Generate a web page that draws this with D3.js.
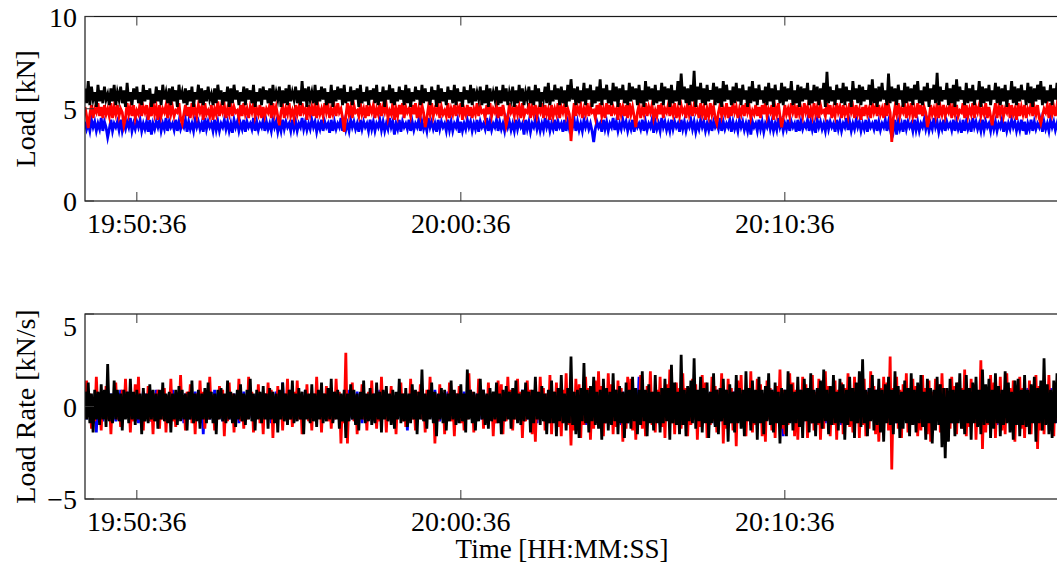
<!DOCTYPE html>
<html>
<head>
<meta charset="utf-8">
<script src="https://cdn.jsdelivr.net/npm/d3@7"></script>
<style>
  html, body { margin: 0; padding: 0; background: #fff; overflow: hidden; }
  svg { display: block; font-family: "Liberation Serif", "Times New Roman", Times, serif; }
</style>
</head>
<body>
<svg id="chart" width="1057" height="572"></svg>
<script>
// ---- sampling ----
const startTime = "19:49:00";
const endTime = "20:19:00";
const sampleStepSeconds = 3;

// ---- tick labels ----
const timeTicks = ["19:50:36", "20:00:36", "20:10:36"];
const loadTicks = [0, 5, 10];
const rateTicks = [-5, 0, 5];

// ---- load [kN] ----
const loadBlue = [
  4.3,3.9,4.2,3.8,4.4,4.0,4.3,3.8,4.2,3.9,4.5,3.8,4.3,4.0,3.45,3.9,
  4.4,3.8,4.2,4.0,4.3,3.85,4.4,3.8,4.2,3.9,4.3,4.0,4.5,3.8,4.2,3.9,
  4.3,4.0,4.4,3.8,4.2,3.9,4.3,3.75,4.4,3.6,4.2,3.9,4.3,4.0,4.4,3.8,
  4.2,3.9,4.5,3.8,4.3,4.0,4.2,3.85,4.4,3.8,4.3,3.9,4.2,4.0,4.4,3.75,
  4.3,3.9,4.2,3.8,4.4,4.0,4.3,3.9,4.2,3.75,4.5,3.9,4.3,4.0,4.2,3.8,
  4.4,3.85,4.3,3.8,4.2,4.0,4.4,3.9,4.3,3.8,4.2,3.7,4.4,4.0,4.3,3.8,
  4.2,3.9,4.4,3.75,4.3,4.0,4.2,3.9,4.5,3.8,4.3,3.85,4.2,4.0,4.4,3.8,
  4.3,3.9,4.2,3.8,4.4,4.0,4.3,3.75,4.2,3.8,4.4,3.9,4.3,4.0,4.2,3.8,
  4.4,3.9,4.3,3.8,4.2,4.0,4.5,3.9,4.3,3.85,4.2,3.9,4.4,4.0,4.3,3.75,
  4.2,3.9,4.4,3.8,4.3,4.0,4.2,3.7,4.4,3.8,4.3,3.9,4.2,4.0,4.5,3.8,
  4.3,3.85,4.2,3.8,4.4,4.0,4.3,3.9,4.2,3.75,4.4,3.9,4.3,4.0,4.2,3.8,
  4.4,3.9,4.3,3.8,4.2,4.0,4.4,3.85,4.3,3.8,4.2,3.9,4.5,4.0,4.3,3.6,
  4.2,3.9,4.4,3.75,4.3,4.0,4.2,3.9,4.4,3.8,4.3,3.85,4.2,4.0,4.4,3.8,
  4.3,3.9,4.2,3.8,4.5,4.0,4.3,3.9,4.2,3.75,4.4,3.9,4.3,4.0,4.2,3.8,
  4.4,3.85,4.3,3.8,4.2,4.0,4.4,3.7,4.3,3.8,4.2,3.9,4.4,4.0,4.3,3.8,
  4.2,3.9,4.4,3.75,4.3,4.0,4.2,3.9,4.5,3.8,4.3,3.85,4.2,4.0,4.4,3.8,
  4.3,3.9,4.2,3.8,4.4,4.0,4.3,3.85,4.2,3.8,4.4,3.9,4.3,4.0,4.2,3.6,
  4.4,3.9,4.3,3.75,4.2,4.0,4.4,3.9,4.3,3.8,4.2,3.85,4.5,4.0,4.3,3.8,
  4.2,3.9,4.4,3.8,4.3,4.0,4.2,3.75,4.4,3.8,4.3,3.9,4.2,4.0,4.4,3.8,
  4.3,3.85,4.2,3.8,4.4,4.0,4.3,3.9,4.2,3.8,3.2,3.9,4.3,4.0,4.2,3.75,
  4.4,3.9,4.3,3.8,4.2,4.0,4.5,3.85,4.3,3.8,4.2,3.9,4.4,4.0,4.3,3.8,
  4.2,3.9,4.4,3.75,4.3,4.0,4.2,3.9,4.4,3.8,4.3,3.85,4.2,4.0,4.4,3.7,
  4.3,3.9,4.2,3.8,4.5,4.0,4.3,3.85,4.2,3.8,4.4,3.9,4.3,4.0,4.2,3.75,
  4.4,3.9,4.3,3.8,4.2,4.0,4.4,3.9,4.3,3.75,4.2,3.9,4.4,4.0,4.3,3.8,
  4.2,3.85,4.4,3.8,4.3,4.0,4.2,3.9,4.5,3.8,4.3,3.9,4.2,4.0,4.4,3.75,
  4.3,3.9,4.2,3.8,4.4,4.0,4.3,3.85,4.2,3.8,4.4,3.6,4.3,4.0,4.2,3.8,
  4.4,3.9,4.3,3.75,4.2,4.0,4.4,3.9,4.3,3.8,4.2,3.85,4.5,4.0,4.3,3.8,
  4.2,3.9,4.4,3.8,4.3,4.0,4.2,3.75,4.4,3.8,4.3,3.9,4.2,4.0,4.4,3.8,
  4.3,3.85,4.2,3.7,4.4,4.0,4.3,3.9,4.2,3.8,4.4,3.9,4.3,4.0,4.2,3.75,
  4.4,3.9,4.3,3.8,4.2,4.0,4.5,3.85,4.3,3.8,4.2,3.9,4.4,4.0,4.3,3.8,
  4.2,3.9,4.4,3.75,4.3,4.0,4.2,3.9,4.4,3.8,4.3,3.85,4.2,4.0,4.4,3.8,
  4.3,3.9,4.2,3.8,4.4,3.6,4.3,3.9,4.2,3.75,4.4,3.9,4.3,4.0,4.2,3.8,
  4.4,3.85,4.3,3.8,4.2,4.0,4.4,3.9,4.3,3.8,4.2,3.9,4.5,4.0,4.3,3.75,
  4.2,3.9,4.4,3.8,4.3,4.0,4.2,3.85,4.4,3.8,4.3,3.9,4.2,3.7,4.4,3.8,
  4.3,3.9,4.2,3.75,4.5,4.0,4.3,3.9,4.2,3.8,4.4,3.85,4.3,4.0,4.2,3.8,
  4.4,3.9,4.3,3.8,4.2,4.0,4.4,3.75,4.3,3.8,4.2,3.9,4.4,4.0,4.3,3.8,
  4.2,3.85,4.4,3.8,4.3,3.6,4.2,3.9,4.4,3.8,4.3,3.9,4.2,4.0,4.4,3.75,
  4.3,3.9,4.2,3.8,4.4,4.0,4.3,3.85,4.2,3.8,4.4,3.9,4.3,4.0,4.2,3.8
];
const loadRed = [
  5.1,4.6,3.95,4.7,5.2,4.5,5.0,4.8,5.3,4.6,5.1,4.5,5.2,4.7,5.0,4.6,
  5.3,4.5,5.1,4.7,5.2,4.6,5.0,4.8,4.1,4.5,5.3,4.7,5.1,4.6,5.2,4.5,
  4.9,4.7,5.3,4.6,5.1,4.8,5.2,4.4,5.0,4.6,5.4,4.7,5.1,4.4,5.2,4.6,
  5.0,4.8,5.2,4.5,5.3,4.7,5.1,4.6,4.9,4.8,5.3,4.5,4.2,4.7,5.2,4.6,
  5.1,4.5,5.3,4.7,5.0,4.6,5.2,4.8,5.1,4.4,5.3,4.7,4.9,4.6,5.2,4.4,
  5.0,4.7,5.4,4.6,5.1,4.8,5.2,4.5,5.0,4.7,5.3,4.6,5.1,4.8,4.9,4.5,
  5.2,4.6,5.3,4.7,5.0,4.5,5.1,4.8,5.3,4.6,5.0,4.7,5.2,4.5,5.1,4.6,
  5.0,4.8,5.2,4.5,5.3,4.7,5.1,4.6,4.1,4.8,5.2,4.5,5.0,4.7,5.3,4.6,
  4.9,4.5,5.2,4.7,5.1,4.6,5.3,4.8,5.0,4.4,5.2,4.7,5.1,4.6,5.3,4.5,
  5.1,4.7,5.0,4.6,5.3,4.8,5.2,4.5,5.0,4.7,5.1,4.6,5.3,4.8,5.0,4.5,
  3.75,4.6,5.3,4.7,5.1,4.5,5.2,4.8,4.9,4.6,5.3,4.7,5.0,4.5,5.2,4.6,
  5.1,4.8,5.2,4.5,5.0,4.7,5.3,4.6,5.1,4.8,5.2,4.5,4.9,4.7,5.3,4.4,
  5.0,4.6,5.2,4.7,5.3,4.5,5.1,4.8,5.0,4.6,5.2,4.7,5.3,4.5,5.0,4.6,
  5.2,4.8,4.0,4.5,5.1,4.7,5.3,4.6,5.0,4.8,5.2,4.5,5.1,4.7,4.9,4.6,
  5.3,4.5,5.0,4.7,5.2,4.6,5.1,4.8,5.3,4.4,5.0,4.7,5.2,4.6,5.1,4.5,
  5.0,4.7,5.3,4.6,5.1,4.8,4.9,4.5,5.2,4.7,5.3,4.6,5.0,4.8,5.2,4.5,
  5.1,4.6,5.2,4.7,4.1,4.5,5.3,4.8,5.0,4.6,5.2,4.7,5.1,4.5,5.3,4.6,
  4.9,4.8,5.3,4.5,5.1,4.7,5.2,4.6,5.0,4.8,5.3,4.5,5.2,4.7,5.0,4.4,
  5.2,4.6,5.0,4.7,5.3,4.5,5.1,4.8,5.2,4.6,5.0,4.7,3.25,4.5,5.3,4.6,
  5.1,4.8,5.2,4.5,5.0,4.7,5.3,4.6,5.1,4.8,4.9,4.5,5.2,4.7,5.3,4.6,
  5.0,4.5,5.3,4.7,5.2,4.6,5.1,4.8,5.0,4.4,5.3,4.7,5.1,4.6,5.2,4.5,
  5.3,4.7,5.1,4.6,4.0,4.8,5.2,4.5,5.0,4.7,5.3,4.6,5.1,4.8,5.2,4.5,
  4.9,4.6,5.2,4.7,5.3,4.5,5.0,4.8,5.2,4.6,5.1,4.7,5.3,4.5,5.0,4.6,
  5.2,4.8,5.0,4.5,5.3,4.7,5.1,4.6,5.2,4.8,5.0,4.5,5.3,4.7,5.1,4.4,
  5.0,4.6,5.3,4.7,5.1,4.5,4.2,4.8,5.2,4.6,5.0,4.7,5.3,4.5,5.1,4.6,
  5.3,4.8,5.1,4.5,5.0,4.7,5.2,4.6,5.3,4.8,5.1,4.5,4.9,4.7,5.2,4.6,
  5.1,4.5,5.2,4.7,5.3,4.6,5.0,4.8,5.2,4.4,5.1,4.7,5.3,4.6,4.0,4.5,
  5.2,4.7,5.0,4.6,5.3,4.8,5.1,4.5,5.2,4.7,5.0,4.6,5.3,4.8,5.1,4.5,
  5.0,4.6,5.3,4.7,5.1,4.5,5.2,4.8,4.9,4.6,5.3,4.7,5.2,4.5,5.0,4.6,
  5.3,4.8,5.1,4.5,5.2,4.7,5.0,4.6,5.3,4.8,5.1,4.5,5.2,4.7,5.0,4.4,
  5.1,4.6,5.2,4.7,5.0,4.5,5.3,4.8,5.1,4.6,5.2,4.7,5.0,4.5,5.3,4.6,
  5.2,4.8,3.2,4.5,5.1,4.7,5.3,4.6,5.0,4.8,5.2,4.5,5.1,4.7,5.3,4.6,
  5.0,4.5,5.3,4.7,5.2,4.6,5.1,4.8,4.0,4.4,5.2,4.7,5.0,4.6,5.3,4.5,
  5.1,4.7,5.2,4.6,5.0,4.8,5.3,4.5,5.1,4.7,5.2,4.6,4.9,4.8,5.3,4.5,
  5.2,4.6,5.0,4.7,5.3,4.5,5.1,4.8,5.2,4.6,5.0,4.7,5.3,4.5,5.1,4.6,
  4.1,4.8,5.3,4.5,5.1,4.7,5.2,4.6,5.0,4.8,5.3,4.5,5.2,4.7,5.0,4.4,
  5.3,4.6,5.1,4.7,5.2,4.5,5.0,4.8,5.3,4.6,5.1,4.7,5.2,4.5,4.2,4.6,
  5.0,4.8,5.2,4.5,5.3,4.7,5.1,4.6,5.2,4.8,5.0,4.5,5.3,4.7,5.1,4.6
];
const loadBlack = [
  6.1,5.3,6.5,5.2,6.2,5.5,5.9,5.1,6.3,5.4,6.0,5.3,6.2,5.5,5.8,5.2,
  6.1,5.4,6.3,5.2,5.9,5.5,6.2,5.3,6.0,5.1,6.4,5.4,5.9,5.2,6.1,5.5,
  6.2,5.3,5.9,5.2,6.3,5.4,6.0,5.5,6.1,5.1,5.8,5.3,6.2,5.4,6.0,5.2,
  6.3,5.5,5.9,5.3,6.1,5.2,6.2,5.4,6.0,5.1,6.3,5.5,5.9,5.3,6.1,5.2,
  6.0,5.4,6.2,5.1,5.9,5.5,6.3,5.3,6.1,5.2,6.0,5.4,6.2,5.5,5.8,5.2,
  6.1,5.3,6.3,5.5,6.0,5.2,5.9,5.4,6.2,5.1,6.1,5.3,6.3,5.5,6.0,5.2,
  5.9,5.4,6.2,5.2,6.1,5.5,6.0,5.3,6.3,5.1,5.9,5.4,6.1,5.2,6.2,5.5,
  6.0,5.3,6.1,5.2,6.3,5.4,5.9,5.5,6.2,5.1,6.0,5.3,6.1,5.2,6.3,5.4,
  5.9,5.5,6.2,5.3,6.0,5.2,6.5,5.4,6.1,5.1,6.2,5.5,5.9,5.3,6.3,5.2,
  6.0,5.4,6.2,5.5,6.1,5.2,5.9,5.3,6.3,5.1,6.0,5.4,6.2,5.5,6.1,5.2,
  6.3,5.3,5.9,5.4,6.2,5.2,6.0,5.5,6.1,5.1,6.3,5.3,5.9,5.4,6.2,5.2,
  6.0,5.5,6.1,5.3,6.3,5.2,5.9,5.4,6.2,5.1,6.0,5.5,6.3,5.3,6.1,5.2,
  5.9,5.4,6.2,5.5,6.0,5.2,6.3,5.3,6.1,5.1,5.9,5.4,6.2,5.5,6.0,5.2,
  6.3,5.3,6.1,5.4,5.9,5.2,6.2,5.5,6.0,5.1,6.3,5.3,6.1,5.4,5.9,5.2,
  6.2,5.5,6.0,5.3,6.3,5.2,6.1,5.4,5.9,5.1,6.2,5.5,6.0,5.3,6.3,5.2,
  6.1,5.4,5.9,5.5,6.2,5.2,6.0,5.3,6.3,5.1,6.1,5.4,5.9,5.5,6.2,5.2,
  6.0,5.3,6.3,5.4,6.1,5.2,5.9,5.5,6.2,5.1,6.0,5.3,6.3,5.4,6.1,5.2,
  5.9,5.5,6.2,5.3,6.0,5.2,6.3,5.4,6.1,5.1,5.9,5.5,6.2,5.3,6.4,5.2,
  6.0,5.4,6.3,5.5,6.1,5.2,6.2,5.3,6.0,5.1,6.3,5.4,6.6,5.5,6.1,5.2,
  6.2,5.3,6.0,5.4,6.4,5.2,6.1,5.5,6.3,5.1,6.0,5.3,6.2,5.4,6.6,5.2,
  6.1,5.5,6.3,5.3,6.0,5.2,6.4,5.4,6.2,5.1,6.1,5.5,6.3,5.3,6.0,5.2,
  6.4,5.4,6.2,5.5,6.1,5.2,6.3,5.3,6.0,5.1,6.5,5.4,6.2,5.5,6.1,5.2,
  6.3,5.3,6.0,5.4,6.4,5.2,6.2,5.5,6.1,5.1,6.3,5.3,6.0,5.4,6.5,5.2,
  6.9,5.5,6.2,5.3,6.1,5.2,6.3,5.4,7.05,5.1,6.2,5.5,6.4,5.3,6.1,5.2,
  6.3,5.4,6.0,5.5,6.4,5.2,6.2,5.3,6.1,5.1,6.5,5.4,6.3,5.5,6.0,5.2,
  6.2,5.3,6.4,5.4,6.1,5.2,6.3,5.5,6.0,5.1,6.2,5.3,6.5,5.4,6.1,5.2,
  6.3,5.5,6.0,5.3,6.2,5.2,6.4,5.4,6.1,5.1,6.3,5.5,6.0,5.3,6.4,5.2,
  6.2,5.4,6.1,5.5,6.5,5.2,6.0,5.3,6.3,5.1,6.2,5.4,6.1,5.5,6.4,5.2,
  6.0,5.3,6.3,5.4,6.2,5.2,6.1,5.5,6.4,5.1,7.0,5.3,6.2,5.4,6.0,5.2,
  6.3,5.5,6.1,5.3,6.4,5.2,6.2,5.4,6.0,5.1,6.5,5.5,6.1,5.3,6.3,5.2,
  6.2,5.4,6.0,5.5,6.3,5.2,6.6,5.3,6.1,5.1,6.2,5.4,6.4,5.5,6.0,5.2,
  6.9,5.3,6.2,5.4,6.1,5.2,6.3,5.5,6.0,5.1,6.4,5.3,6.2,5.4,6.1,5.2,
  6.3,5.5,6.5,5.3,6.0,5.2,6.2,5.4,6.4,5.1,6.1,5.5,6.3,5.3,6.95,5.2,
  6.2,5.4,6.0,5.5,6.4,5.2,6.1,5.3,6.3,5.1,6.6,5.4,6.2,5.5,6.0,5.2,
  6.4,5.3,6.1,5.4,6.3,5.2,6.0,5.5,6.5,5.1,6.2,5.3,6.1,5.4,6.3,5.2,
  6.0,5.5,6.4,5.3,6.2,5.2,6.1,5.4,6.3,5.1,6.0,5.5,6.5,5.3,6.2,5.2,
  6.1,5.4,6.3,5.5,6.0,5.2,6.4,5.3,6.2,5.1,6.1,5.4,6.3,5.5,6.5,5.2,
  6.2,5.3,6.0,5.4,6.3,5.2,6.1,5.5,6.4,5.1,6.2,5.3,6.0,5.4,6.3,5.2
];

// ---- load rate [kN/s] ----
const rateBlue = [
  0.5,-0.7,0.8,-0.5,0.6,-0.9,0.4,-1.4,0.7,-0.6,0.5,-0.8,0.6,-0.5,0.9,-0.6,
  0.7,-0.5,0.6,-0.8,0.5,-0.7,0.9,-0.5,0.6,-0.6,0.8,-0.4,0.7,-0.6,0.5,-0.8,
  0.6,-0.9,0.5,-0.6,0.8,-0.5,0.7,-0.6,0.5,-0.8,0.6,-0.5,0.9,-0.7,0.5,-0.6,
  0.8,-0.5,0.6,-0.7,0.5,-0.6,0.9,-0.5,0.7,-0.8,0.5,-0.6,0.6,-0.9,0.7,-0.5,
  0.5,-0.7,0.6,-0.5,0.8,-0.6,0.5,-0.9,0.7,-1.5,0.6,-0.5,0.8,-0.7,0.5,-0.6,
  0.9,-0.5,0.7,-0.6,0.5,-0.8,0.6,-0.5,0.8,-0.7,0.5,-0.6,0.7,-0.5,0.6,-0.9,
  0.5,-0.6,0.8,-0.7,0.6,-0.5,0.9,-0.6,0.5,-0.7,0.7,-0.5,0.6,-0.8,0.5,-0.6,
  0.7,-0.5,0.6,-0.9,0.5,-0.6,0.8,-0.5,0.7,-0.6,1.3,-0.7,0.5,-0.6,0.9,-0.5,
  0.6,-0.8,0.5,-0.6,0.7,-0.5,0.6,-0.7,0.9,-0.6,0.5,-0.8,0.7,-0.5,0.6,-0.7,
  0.8,-0.6,0.5,-0.7,0.6,-0.5,0.9,-0.6,0.5,-0.8,0.7,-0.5,0.6,-0.7,0.5,-0.6,
  0.7,-0.5,0.9,-0.6,0.5,-0.7,0.6,-0.5,0.8,-0.6,0.5,-0.9,0.7,-0.5,0.6,-0.7,
  0.5,-0.6,0.7,-0.8,0.6,-0.5,0.9,-0.7,0.5,-0.6,0.8,-0.5,0.6,-0.7,0.5,-0.8,
  0.6,-0.5,0.8,-0.6,0.5,-0.7,0.7,-1.3,0.6,-0.5,0.9,-0.6,0.5,-0.8,0.7,-0.5,
  0.5,-0.7,0.6,-0.5,0.8,-0.6,0.5,-0.7,0.9,-0.5,0.6,-0.8,0.7,-0.6,0.5,-0.7,
  0.8,-0.6,0.5,-0.7,0.6,-0.9,0.7,-0.5,0.5,-0.6,0.8,-0.7,0.6,-0.5,0.9,-0.6,
  0.6,-0.8,0.7,-0.5,0.5,-0.7,0.9,-0.6,0.6,-0.8,0.5,-0.6,0.7,-0.9,0.5,-0.6,
  0.7,-0.5,0.6,-0.8,0.9,-0.6,0.5,-0.7,0.8,-0.5,0.6,-0.7,0.5,-0.6,0.9,-0.8,
  0.5,-0.7,0.8,-0.6,0.6,-0.5,0.7,-0.9,0.5,-0.6,0.8,-0.7,0.6,-0.5,0.7,-0.8,
  0.8,-0.6,0.7,-0.9,0.6,-0.7,0.9,-0.6,0.7,-0.8,0.6,-0.9,0.8,-0.7,0.6,-0.8,
  0.9,-0.7,0.6,-0.8,0.7,-1.0,0.8,-0.6,0.9,-0.7,1.0,-0.8,0.6,-0.9,0.7,-0.6,
  0.7,-0.9,0.8,-0.6,1.0,-0.7,0.6,-0.8,0.9,-0.6,0.7,-1.0,0.8,-0.7,0.6,-0.9,
  0.8,-0.6,0.9,-0.7,0.7,-0.8,1.6,-0.6,0.8,-0.9,0.6,-0.7,1.0,-0.8,0.7,-0.6,
  0.6,-0.8,0.7,-1.0,0.9,-0.6,0.8,-0.7,0.6,-0.9,1.0,-0.6,0.7,-0.8,0.9,-0.7,
  0.9,-0.7,0.6,-0.8,0.8,-0.9,0.7,-0.6,1.0,-0.7,0.8,-0.9,0.6,-0.7,0.9,-0.8,
  0.7,-0.9,0.8,-0.6,0.7,-1.0,0.9,-0.7,0.6,-0.8,0.7,-0.6,0.9,-1.0,0.8,-0.7,
  0.8,-0.6,1.0,-0.7,0.9,-0.8,0.6,-0.9,0.7,-0.6,0.8,-1.0,0.7,-0.8,0.6,-0.9,
  0.6,-0.8,0.7,-0.9,0.8,-0.6,1.0,-0.7,0.9,-0.8,0.6,-0.7,0.8,-0.9,0.7,-1.6,
  0.9,-0.7,0.8,-0.6,1.0,-0.9,0.7,-0.8,0.6,-0.7,0.9,-1.0,0.8,-0.6,0.7,-0.8,
  0.7,-0.9,0.6,-0.8,0.9,-0.7,0.8,-0.6,1.0,-0.9,0.7,-0.8,0.6,-1.0,0.9,-0.7,
  0.8,-0.6,0.9,-1.0,0.7,-0.8,0.6,-0.9,0.8,-0.7,1.0,-0.6,0.9,-0.8,0.7,-0.9,
  0.6,-0.8,0.7,-0.9,1.0,-0.6,0.8,-0.7,0.9,-1.0,0.6,-0.8,0.7,-0.9,0.8,-0.6,
  0.9,-0.7,1.0,-0.8,0.6,-0.9,0.7,-1.0,0.8,-0.6,0.9,-0.7,1.0,-0.8,0.6,-0.9,
  0.7,-1.0,0.8,-0.6,0.9,-0.7,0.6,-0.8,1.0,-0.9,0.7,-0.6,0.8,-1.0,0.9,-0.7,
  0.8,-0.6,0.9,-0.7,0.7,-1.0,0.8,-0.9,0.6,-0.7,1.0,-0.8,0.9,-0.6,0.7,-0.8,
  0.6,-0.9,0.7,-0.8,1.0,-0.6,0.9,-0.7,0.8,-1.0,0.6,-0.9,0.7,-0.8,1.0,-0.6,
  0.9,-0.7,0.8,-1.0,0.6,-0.8,0.7,-0.9,1.0,-0.6,0.8,-0.7,0.9,-1.0,0.6,-0.8,
  0.7,-0.8,0.6,-0.9,0.8,-0.7,1.0,-0.6,0.9,-0.8,0.7,-1.0,0.6,-0.9,0.8,-0.7,
  0.8,-0.6,0.9,-0.7,1.0,-0.8,0.6,-0.9,0.7,-1.0,0.8,-0.6,0.9,-0.7,1.0,-0.8
];
const rateRed = [
  -0.6,1.4,-0.5,0.7,-1.2,0.5,-0.8,1.6,-0.4,0.6,-1.3,0.8,-0.5,1.1,-0.7,0.5,
  -1.5,0.6,-0.5,1.3,-0.7,0.4,-1.1,0.9,-0.6,1.5,-0.5,0.7,-1.4,0.5,-0.8,1.2,
  -0.5,1.6,-0.7,0.5,-1.3,0.6,-0.4,1.1,-0.8,0.5,-1.5,0.7,-0.6,0.9,-1.2,0.5,
  -0.7,1.0,-1.4,0.6,-0.5,1.5,-0.8,0.4,-1.1,0.7,-0.5,1.7,-0.6,0.5,-1.3,0.8,
  -0.4,1.2,-0.9,0.5,-1.5,0.7,-0.6,1.4,-0.5,0.8,-1.2,0.5,-0.7,1.6,-0.5,0.6,
  -1.3,0.5,-0.7,1.1,-0.6,0.9,-1.6,0.5,-0.8,1.3,-0.4,0.7,-1.4,0.6,-0.5,1.5,
  -0.8,0.6,-1.2,0.5,-0.7,1.6,-0.5,0.8,-1.4,0.5,-0.6,1.2,-0.9,0.4,-1.5,0.7,
  -0.5,1.3,-0.6,0.9,-1.7,0.5,-0.8,1.1,-0.5,0.6,-1.3,0.7,-0.4,1.5,-0.7,0.5,
  -1.1,0.8,-0.5,1.4,-0.7,0.6,-1.5,0.5,-0.6,1.2,-0.8,0.4,-1.3,0.7,-0.5,1.6,
  -0.6,0.5,-1.4,0.7,-0.5,1.1,-0.8,0.6,-1.2,0.5,-0.7,1.5,-0.4,0.8,-2.0,0.6,
  -0.9,2.9,-2.0,0.7,-0.5,1.3,-0.8,0.6,-1.5,0.5,-0.6,1.2,-0.7,0.4,-1.3,0.8,
  -0.5,1.4,-0.7,0.6,-1.2,0.5,-0.8,1.6,-0.5,0.7,-1.4,0.6,-0.4,1.1,-0.9,0.5,
  -1.5,0.6,-0.5,1.3,-0.8,0.7,-1.1,0.5,-0.6,1.5,-0.7,0.4,-1.3,0.8,-0.5,1.2,
  -0.7,0.5,-1.4,0.9,-0.6,1.6,-0.5,0.7,-2.0,0.6,-0.8,1.2,-0.5,0.7,-1.5,0.5,
  -0.6,1.3,-0.8,0.5,-1.6,0.7,-0.5,1.1,-0.9,0.6,-1.3,0.5,-0.7,1.8,-0.6,0.8,
  -1.4,0.6,-0.7,1.5,-0.5,0.9,-1.2,0.6,-0.8,1.3,-0.5,0.7,-1.6,0.5,-0.9,1.4,
  -0.6,1.2,-1.5,0.7,-0.8,1.6,-0.5,0.9,-1.3,0.6,-0.7,1.5,-0.6,0.8,-1.7,0.5,
  -0.8,1.4,-0.6,0.9,-1.5,0.6,-1.9,0.8,-0.7,1.6,-0.5,1.0,-1.3,0.7,-0.9,1.7,
  -1.5,0.8,-0.7,1.3,-1.1,0.6,-1.6,0.9,-0.7,1.8,-1.0,0.6,-2.1,0.8,-1.3,1.5,
  -0.8,1.2,-1.7,0.7,-1.0,1.6,-0.7,1.0,-1.8,0.6,-1.2,1.4,-0.8,1.9,-0.6,1.1,
  -1.6,0.7,-0.9,1.8,-0.7,1.2,-1.5,0.6,-1.1,1.4,-0.8,1.0,-1.9,0.7,-1.2,1.6,
  -0.7,1.5,-1.3,0.8,-1.8,0.6,-0.9,1.7,-1.2,0.7,-1.6,1.1,-0.6,1.9,-1.0,0.8,
  -1.4,0.9,-0.8,1.6,-1.1,0.7,-1.7,1.2,-0.6,2.0,-0.9,0.8,-1.5,1.3,-0.7,1.0,
  -1.2,1.8,-0.7,1.0,-1.6,0.8,-1.0,1.5,-0.7,1.2,-1.8,0.6,-1.1,1.7,-0.8,1.3,
  -1.7,0.7,-1.0,1.6,-0.8,1.1,-1.4,0.9,-0.6,1.8,-2.0,0.7,-1.2,1.5,-0.9,1.0,
  -1.3,0.8,-2.15,1.4,-0.7,1.7,-1.1,0.6,-1.6,1.0,-0.8,1.9,-1.4,0.7,-1.0,1.5,
  -0.8,1.2,-1.6,0.7,-1.9,1.4,-0.7,1.0,-1.3,0.8,-1.7,1.1,-0.6,2.0,-1.2,0.9,
  -1.5,0.8,-1.0,1.8,-0.7,1.3,-1.6,0.9,-1.8,0.7,-1.1,1.6,-0.8,1.2,-1.7,0.6,
  -0.9,1.7,-1.3,0.8,-1.0,1.5,-1.8,0.7,-1.2,1.9,-0.7,1.1,-1.6,0.8,-1.0,1.4,
  -1.8,0.9,-0.7,1.3,-1.5,1.0,-0.8,1.8,-1.1,0.7,-1.4,1.6,-0.9,1.2,-1.7,0.8,
  -1.0,1.5,-1.6,0.8,-1.2,1.9,-0.7,1.1,-1.5,0.8,-1.9,1.0,-1.1,1.6,-0.8,1.3,
  -1.3,2.7,-3.4,1.0,-0.8,1.6,-1.2,0.9,-1.7,1.2,-0.7,1.8,-1.4,0.8,-1.0,1.5,
  -0.8,1.1,-1.6,0.7,-1.3,1.7,-0.9,1.0,-1.5,1.4,-1.9,0.8,-1.1,1.5,-0.7,1.2,
  -1.4,1.8,-0.9,1.0,-1.7,0.8,-1.2,1.6,-0.8,1.1,-1.5,1.3,-0.7,1.0,-1.2,2.0,
  -1.6,0.9,-1.1,1.5,-0.8,1.2,-1.8,0.7,-1.0,2.5,-2.3,1.1,-1.4,0.8,-1.0,1.7,
  -1.1,1.3,-1.7,0.8,-0.9,1.6,-1.3,0.7,-1.5,1.8,-0.8,1.0,-1.2,1.4,-1.9,0.9,
  -0.8,1.6,-1.2,1.0,-1.7,0.8,-1.0,1.4,-1.5,0.9,-0.8,1.7,-2.3,1.1,-1.3,0.8,
  -1.5,1.0,-0.9,1.7,-1.2,0.8,-1.6,1.3,-0.7,1.5,-1.1,0.9,-1.8,1.2,-0.8,1.6
];
const rateBlack = [
  0.8,-0.7,1.3,-0.9,0.7,-1.4,0.9,-0.7,0.8,-1.0,1.2,-0.7,0.9,-1.1,2.3,-0.8,
  0.7,-0.9,1.4,-0.7,0.9,-0.8,0.7,-1.3,0.9,-0.7,0.8,-0.9,1.5,-0.7,0.8,-1.0,
  0.9,-0.7,0.7,-1.5,1.0,-0.8,0.7,-0.9,1.2,-0.7,0.9,-0.8,0.7,-1.2,0.9,-0.7,
  1.3,-0.8,0.7,-0.9,0.8,-1.4,0.7,-0.7,0.9,-1.0,1.1,-0.8,0.9,-0.7,0.7,-1.3,
  0.8,-0.7,1.4,-0.9,0.7,-0.8,0.9,-1.2,0.7,-0.7,1.0,-0.9,1.3,-0.7,0.8,-0.9,
  0.7,-1.5,0.9,-0.7,1.0,-0.8,0.7,-0.9,1.4,-0.7,0.8,-0.9,0.7,-1.1,0.9,-0.7,
  1.2,-0.8,0.7,-1.0,0.9,-0.7,1.5,-0.8,0.7,-1.3,0.9,-0.7,0.8,-0.9,1.1,-0.7,
  0.7,-1.2,1.0,-0.7,0.8,-0.9,0.7,-1.4,0.9,-0.7,1.3,-0.8,0.7,-1.0,0.9,-0.7,
  1.4,-0.9,0.7,-0.8,1.0,-0.7,0.8,-1.5,0.9,-0.7,0.7,-0.9,1.2,-0.8,0.7,-1.1,
  0.9,-0.7,1.3,-0.9,0.7,-0.8,1.0,-0.7,1.5,-0.9,0.8,-0.7,0.9,-1.2,0.7,-0.8,
  0.9,-1.7,0.7,-0.8,1.2,-0.7,0.9,-1.0,0.7,-1.3,0.8,-0.7,1.4,-0.9,0.7,-0.8,
  1.0,-1.0,0.7,-0.9,1.3,-0.7,0.8,-1.4,0.9,-0.7,1.1,-0.8,0.7,-1.0,0.9,-1.2,
  0.8,-0.7,1.5,-0.9,0.7,-0.8,1.0,-1.1,0.7,-0.9,1.2,-0.7,0.9,-1.5,0.8,-0.7,
  2.0,-0.8,0.7,-1.2,0.9,-0.7,1.3,-0.9,0.8,-1.6,0.7,-0.7,1.0,-0.9,0.9,-1.3,
  0.7,-0.8,1.4,-0.7,0.9,-1.0,0.7,-0.9,1.2,-0.8,0.7,-1.4,2.0,-0.7,0.9,-0.9,
  0.8,-1.3,0.7,-0.8,1.5,-0.7,0.9,-1.0,0.7,-1.2,1.0,-0.8,0.8,-0.7,1.3,-0.9,
  0.7,-1.5,0.9,-0.8,1.1,-0.7,0.8,-1.2,1.0,-0.7,1.4,-0.9,0.7,-1.0,0.9,-0.8,
  1.3,-0.7,0.8,-1.4,0.9,-0.9,1.6,-0.7,0.8,-1.0,1.1,-0.8,0.7,-1.5,0.9,-0.9,
  1.4,-0.9,0.8,-1.6,1.0,-0.8,1.7,-0.9,0.7,-1.3,1.0,-0.9,2.7,-1.0,0.8,-1.5,
  0.9,-1.7,1.0,-0.8,2.35,-0.9,0.9,-1.4,1.1,-0.8,1.6,-1.0,0.8,-1.2,0.9,-1.8,
  1.5,-0.9,1.0,-1.3,0.8,-1.0,1.8,-0.8,0.9,-1.5,1.1,-0.9,0.8,-1.7,1.3,-0.9,
  0.9,-1.2,1.6,-0.8,1.0,-1.5,0.9,-1.0,1.9,-0.8,0.9,-1.6,1.2,-0.9,0.8,-1.3,
  1.7,-0.9,0.8,-1.4,1.0,-0.9,1.5,-0.8,1.0,-1.8,2.25,-0.9,1.3,-1.0,0.8,-1.5,
  2.8,-1.0,0.9,-1.6,1.1,-0.8,1.4,-0.9,2.6,-1.2,0.9,-0.8,1.6,-1.4,1.0,-0.9,
  1.3,-1.7,0.8,-0.9,1.8,-1.1,0.9,-1.5,1.0,-0.8,1.5,-1.0,0.9,-1.9,1.2,-0.9,
  0.8,-1.4,1.7,-0.9,1.0,-1.2,0.9,-1.6,1.9,-0.8,1.0,-1.3,1.4,-0.9,0.9,-1.8,
  1.6,-0.9,0.9,-1.5,1.1,-0.8,1.8,-1.0,0.9,-1.4,1.3,-0.9,0.8,-2.0,1.0,-1.0,
  0.9,-1.6,1.9,-0.9,1.2,-1.3,0.8,-0.9,1.6,-1.1,0.9,-1.7,1.5,-0.8,1.0,-1.4,
  1.8,-0.9,0.9,-1.6,1.0,-0.9,1.4,-1.2,2.0,-0.8,0.9,-1.5,1.1,-1.0,1.7,-0.9,
  0.8,-1.3,1.5,-0.9,1.2,-1.8,0.9,-1.0,1.6,-0.8,1.0,-1.7,1.3,-0.9,1.9,-1.1,
  2.55,-0.9,0.9,-1.6,1.0,-0.8,1.7,-1.3,0.9,-1.0,1.5,-1.4,0.9,-1.9,1.2,-0.9,
  1.6,-1.0,0.9,-1.5,1.9,-0.9,1.1,-1.7,0.8,-1.2,1.4,-0.9,1.0,-1.6,1.8,-1.0,
  0.9,-1.4,1.3,-0.9,1.7,-1.1,0.8,-1.8,1.5,-0.9,1.0,-2.0,0.9,-1.3,1.6,-1.0,
  1.2,-2.2,1.0,-2.8,1.0,-1.9,1.5,-0.9,0.9,-1.6,1.3,-0.9,1.8,-1.2,0.9,-1.5,
  1.7,-0.9,1.0,-1.8,1.3,-0.9,1.6,-1.1,0.9,-1.5,2.0,-1.0,1.2,-0.9,1.5,-1.7,
  0.9,-1.2,1.8,-0.9,1.1,-1.6,0.9,-1.0,1.9,-0.9,1.3,-1.4,0.8,-1.8,1.4,-1.0,
  1.5,-1.6,0.9,-1.0,1.7,-1.1,0.9,-1.5,1.2,-0.9,1.6,-1.9,1.0,-0.9,1.4,-1.3,
  2.6,-1.0,1.2,-1.5,0.9,-1.7,1.4,-0.9,1.8,-1.0,0.9,-1.4,1.3,-0.9,1.6,-1.2
];

const seriesColors = ["#0000ff", "#ff0000", "#000000"];

// ---- layout ----
const W = 1057, H = 572;
const plotLeft = 85, plotRightEdge = 1057, boxRight = 1120;
const fontSize = 28;
const tickLen = 9;
const lineWidth = 2.8;

const svg = d3.select("#chart");
svg.append("rect").attr("width", W).attr("height", H).attr("fill", "#fff");

const parseTime = d3.timeParse("%H:%M:%S");
const t0 = parseTime(startTime);
const x = d3.scaleTime()
  .domain([t0, parseTime(endTime)])
  .range([plotLeft, plotRightEdge]);
const sampleTime = i => d3.timeSecond.offset(t0, i * sampleStepSeconds);
const fmt = d3.timeFormat("%H:%M:%S");

const panels = [
  { id: "load", top: 16.5, bottom: 201, domain: [0, 10], ticks: loadTicks,
    label: "Load [kN]", series: [loadBlue, loadRed, loadBlack],
    tickLabelBase: 233, topLabelShift: 0 },
  { id: "rate", top: 314, bottom: 499, domain: [-5, 5], ticks: rateTicks,
    label: "Load Rate [kN/s]", series: [rateBlue, rateRed, rateBlack],
    tickLabelBase: 531, topLabelShift: 12 }
];

const fmtNum = v => (v < 0 ? "\u2212" + Math.abs(v) : String(v));

panels.forEach(p => {
  const y = d3.scaleLinear().domain(p.domain).range([p.bottom, p.top]);
  const g = svg.append("g");

  g.append("clipPath").attr("id", "clip-" + p.id)
    .append("rect")
    .attr("x", plotLeft).attr("y", p.top)
    .attr("width", boxRight - plotLeft).attr("height", p.bottom - p.top);

  const line = d3.line()
    .x((d, i) => x(sampleTime(i)))
    .y(d => y(d));

  const lines = g.append("g").attr("clip-path", `url(#clip-${p.id})`);
  p.series.forEach((s, k) => {
    lines.append("path")
      .datum(s)
      .attr("d", line)
      .attr("fill", "none")
      .attr("stroke", seriesColors[k])
      .attr("stroke-width", lineWidth)
      .attr("stroke-linejoin", "miter")
      .attr("stroke-miterlimit", 6);
  });

  // axes box
  g.append("rect")
    .attr("x", plotLeft).attr("y", p.top)
    .attr("width", boxRight - plotLeft).attr("height", p.bottom - p.top)
    .attr("fill", "none").attr("stroke", "#1a1a1a").attr("stroke-width", 1.2);

  // x ticks (inward, bottom and top)
  const xt = timeTicks.map(parseTime);
  g.selectAll(".xtb").data(xt).join("line")
    .attr("x1", d => x(d)).attr("x2", d => x(d))
    .attr("y1", p.bottom).attr("y2", p.bottom - tickLen)
    .attr("stroke", "#333").attr("stroke-width", 1);
  g.selectAll(".xtt").data(xt).join("line")
    .attr("x1", d => x(d)).attr("x2", d => x(d))
    .attr("y1", p.top).attr("y2", p.top + tickLen)
    .attr("stroke", "#333").attr("stroke-width", 1);
  g.selectAll(".xl").data(xt).join("text")
    .attr("x", d => x(d)).attr("y", p.tickLabelBase)
    .attr("text-anchor", "middle")
    .attr("font-size", fontSize).attr("fill", "#000")
    .text(d => fmt(d));

  // y ticks
  const topVal = p.domain[1];
  g.selectAll(".yt").data(p.ticks).join("line")
    .attr("x1", plotLeft).attr("x2", plotLeft + tickLen)
    .attr("y1", d => y(d)).attr("y2", d => y(d))
    .attr("stroke", "#333").attr("stroke-width", 1);
  g.selectAll(".yl").data(p.ticks).join("text")
    .attr("x", plotLeft - 8)
    .attr("y", d => y(d) + 10 + (d === topVal ? p.topLabelShift : 0))
    .attr("text-anchor", "end")
    .attr("font-size", fontSize).attr("fill", "#000")
    .text(d => fmtNum(d));

  // y axis title
  g.append("text")
    .attr("transform", `translate(35,${(p.top + p.bottom) / 2}) rotate(-90)`)
    .attr("text-anchor", "middle")
    .attr("font-size", fontSize).attr("fill", "#000")
    .text(p.label);
});

// x axis title
svg.append("text")
  .attr("x", 562).attr("y", 558)
  .attr("text-anchor", "middle")
  .attr("font-size", 27).attr("fill", "#000")
  .text("Time [HH:MM:SS]");
</script>
</body>
</html>
